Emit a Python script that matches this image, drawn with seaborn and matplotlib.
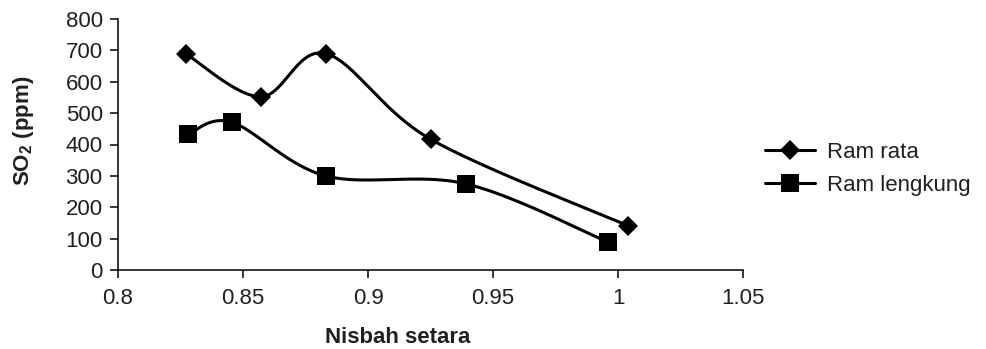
import numpy as np
import pandas as pd
import matplotlib
matplotlib.use("Agg")
import matplotlib.pyplot as plt
import seaborn as sns
from matplotlib.lines import Line2D

# ---- data ----
series_names = ["Ram rata", "Ram lengkung"]
nisbah_rata = [0.827, 0.857, 0.883, 0.925, 1.004]
so2_rata = [690, 552, 690, 417, 141]
nisbah_lengkung = [0.828, 0.8455, 0.883, 0.939, 0.996]
so2_lengkung = [432, 471, 300, 275, 89]
xticks = [0.8, 0.85, 0.9, 0.95, 1.0, 1.05]
xticklabels = ["0.8", "0.85", "0.9", "0.95", "1", "1.05"]
yticks = [0, 100, 200, 300, 400, 500, 600, 700, 800]

sns.set_theme(style="white")
plt.rcParams["font.family"] = ["Liberation Sans", "DejaVu Sans"]
plt.rcParams["mathtext.fontset"] = "custom"
plt.rcParams["mathtext.rm"] = "Liberation Sans"
plt.rcParams["mathtext.bf"] = "Liberation Sans:bold"

XMIN, XMAX, YMIN, YMAX = 0.8, 1.05, 0, 800
TXT = "#231f20"


def smooth(x, y, sx, sy, n=40):
    """Spreadsheet-style smoothed line (Catmull-Rom Bezier) in screen-proportional space."""
    p = np.column_stack([(np.asarray(x) - XMIN) / (XMAX - XMIN) * sx,
                         (np.asarray(y) - YMIN) / (YMAX - YMIN) * sy])
    out = []
    m = len(p)
    t = np.linspace(0, 1, n)[:, None]
    for i in range(m - 1):
        p0 = p[i - 1] if i > 0 else p[i]
        p1, p2 = p[i], p[i + 1]
        p3 = p[i + 2] if i + 2 < m else p[i + 1]
        c1 = p1 + (p2 - p0) / 6
        c2 = p2 - (p3 - p1) / 6
        seg = ((1 - t) ** 3) * p1 + 3 * ((1 - t) ** 2) * t * c1 + 3 * (1 - t) * t ** 2 * c2 + t ** 3 * p2
        out.append(seg if i == 0 else seg[1:])
    q = np.vstack(out)
    xs = q[:, 0] / sx * (XMAX - XMIN) + XMIN
    ys = q[:, 1] / sy * (YMAX - YMIN) + YMIN
    return xs, ys


W, H = 987, 349
L, R, B, T = 118, 743, 270, 19
fig = plt.figure(figsize=(W / 100, H / 100), dpi=100)
ax = fig.add_axes([L / W, 1 - B / H, (R - L) / W, (B - T) / H])
sx, sy = R - L, B - T

markers = ["D", "s"]
msizes = [10, 13.5]
LW = 2.2
data = [(nisbah_rata, so2_rata), (nisbah_lengkung, so2_lengkung)]
for (xv, yv), name, mk, ms in zip(data, series_names, markers, msizes):
    xs, ys = smooth(xv, yv, sx, sy)
    curve = pd.DataFrame({"x": xs, "y": ys})
    sns.lineplot(data=curve, x="x", y="y", sort=False, color="black", linewidth=LW, ax=ax)
    pts = pd.DataFrame({"x": xv, "y": yv})
    sns.lineplot(data=pts, x="x", y="y", sort=False, color="black", linewidth=0,
                 marker=mk, markersize=ms, markeredgewidth=0, ax=ax)

ax.set_xlim(XMIN, XMAX)
ax.set_ylim(YMIN, YMAX)
ax.set_xticks(xticks)
ax.set_xticklabels(xticklabels)
ax.set_yticks(yticks)
for s in ["top", "right"]:
    ax.spines[s].set_visible(False)
for s in ["left", "bottom"]:
    ax.spines[s].set_color("black")
    ax.spines[s].set_linewidth(1.1)
ax.tick_params(axis="both", which="major", direction="out", length=6, width=1.1,
               color="black", labelsize=16, labelcolor=TXT, left=True, bottom=True)
ax.tick_params(axis="y", pad=5)
ax.tick_params(axis="x", pad=7)

ax.set_xlabel("Nisbah setara", fontsize=16, fontweight="bold", color=TXT)
ax.xaxis.set_label_coords((397.5 - L) / sx, (B - 337.5) / sy)
ax.xaxis.label.set_va("center")
ax.set_ylabel(r"SO$_\mathbf{2}$ (ppm)", fontsize=16, fontweight="bold", color=TXT)
ax.yaxis.set_label_coords((24 - L) / sx, (B - 130.5) / sy)
ax.yaxis.label.set_va("center")

handles = [Line2D([], [], color="black", linewidth=LW, marker=mk, markersize=ms, markeredgewidth=0)
           for mk, ms in zip(markers, msizes)]
leg = fig.legend(handles, series_names, loc="center left",
                 bbox_to_anchor=(765 / W, 1 - 169 / H), bbox_transform=fig.transFigure,
                 frameon=False, fontsize=16, handlelength=2.25, handletextpad=0.54,
                 labelspacing=0.55, borderpad=0, borderaxespad=0)
for t in leg.get_texts():
    t.set_color(TXT)

fig.savefig("out.png", dpi=100, facecolor="white")
